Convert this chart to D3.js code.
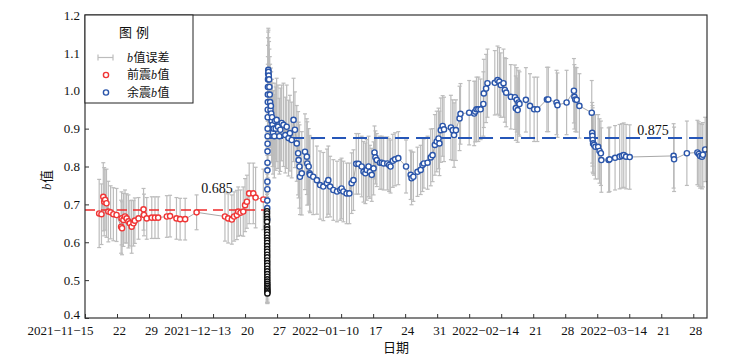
<!DOCTYPE html>
<html lang="zh">
    <head>
        <meta charset="utf-8">
        <title>b值时序</title>
        <script src="https://d3js.org/d3.v7.min.js"></script>
        <style type="text/css">
            body { margin: 0; background: #fff; }
            svg text { font-family: "Liberation Serif", "Times New Roman", serif; fill: #111; }
            .cjk { font-family: "Noto Sans CJK SC", sans-serif; }
        </style>
    </head>
    <body>
        <script type="text/javascript">

            //consts
            const w = 747;
            const h = 362;
            const margin = {top: 15, right: 40, bottom: 44, left: 85};
            const start = new Date(2021, 10, 15);
            const end = new Date(2022, 2, 31);

            //data: day offsets from 2021-11-15, b values, errors
            const foreDay = [3.1, 3.6, 4.0, 4.2, 4.4, 4.7, 5.1, 5.6, 6.2, 6.9, 7.9, 8.0, 8.1, 8.4, 8.75, 9.1, 9.5, 9.8, 10.2, 10.6,
                             10.9, 11.7, 12.8, 12.9, 13.5, 14.6, 15.3, 16.0, 17.9, 18.6, 20.0, 20.8, 21.9, 24.4, 30.6, 31.3,
                             32.1, 32.6, 33.2, 33.5, 34.0, 34.6, 35.0, 35.4, 35.9, 36.8, 37.3, 39.0];
            const foreB   = [0.676, 0.674, 0.720, 0.707, 0.712, 0.703, 0.681, 0.679, 0.674, 0.672, 0.641, 0.663, 0.637, 0.659,
                             0.668, 0.663, 0.655, 0.650, 0.641, 0.650, 0.657, 0.663, 0.687, 0.672, 0.663, 0.665, 0.665, 0.665,
                             0.668, 0.669, 0.663, 0.661, 0.661, 0.679, 0.668, 0.663, 0.660, 0.668, 0.672, 0.681, 0.678, 0.681,
                             0.698, 0.707, 0.729, 0.729, 0.718, 0.713];
            const foreErr = [0.09, 0.08, 0.09, 0.09, 0.08, 0.09, 0.08, 0.07, 0.07, 0.07, 0.07, 0.07, 0.07, 0.07,
                             0.07, 0.065, 0.07, 0.06, 0.07, 0.06, 0.06, 0.055, 0.055, 0.055, 0.055, 0.055, 0.055, 0.055,
                             0.055, 0.055, 0.055, 0.055, 0.055, 0.046, 0.065, 0.065, 0.065, 0.065, 0.065, 0.065, 0.06, 0.065,
                             0.07, 0.07, 0.08, 0.08, 0.08, 0.08];

            //first aftershocks right after the main shock (black)
            const earlyDay = [39.80, 39.80, 39.80, 39.81, 39.81, 39.81, 39.82, 39.82, 39.82, 39.82, 39.83, 39.83, 39.83,
                              39.83, 39.84, 39.84, 39.84, 39.84, 39.85, 39.85, 39.85, 39.85, 39.86, 39.86, 39.86, 39.86,
                              39.87, 39.87, 39.87, 39.87, 39.88, 39.88, 39.88];
            const earlyB   = [0.682, 0.676, 0.668, 0.661, 0.654, 0.641, 0.634, 0.627, 0.620, 0.612, 0.605, 0.598, 0.590,
                              0.582, 0.575, 0.567, 0.560, 0.552, 0.545, 0.538, 0.530, 0.523, 0.516, 0.509, 0.502, 0.496,
                              0.490, 0.485, 0.480, 0.476, 0.472, 0.468, 0.465];
            const earlyErr = [0.05, 0.05, 0.05, 0.05, 0.05, 0.05, 0.05, 0.04, 0.05, 0.04, 0.04, 0.05, 0.04,
                              0.04, 0.04, 0.04, 0.04, 0.04, 0.04, 0.04, 0.04, 0.04, 0.04, 0.04, 0.04, 0.04,
                              0.04, 0.04, 0.04, 0.035, 0.03, 0.03, 0.025];

            const afterDay = [39.84, 39.85, 39.86, 39.87, 39.88, 39.89, 39.90, 39.91, 39.92, 39.93, 39.94, 39.95, 39.96,
                              39.97, 39.98, 40.00, 40.02, 40.05, 40.08, 40.12, 40.18, 40.25, 40.32, 40.40, 40.48, 40.56,
                              40.64, 40.72, 40.80, 40.90, 41.00, 41.10, 41.25, 41.40, 41.55, 41.70, 41.9, 42.2, 42.5, 42.7,
                              43.0, 43.4, 43.8, 44.1, 44.5, 44.8, 45.2, 45.6, 45.9, 46.3, 46.6, 46.7, 46.9, 47.0, 47.4,
                              48.1, 48.5, 48.6, 48.9, 49.1, 49.2, 49.9, 50.7, 51.4, 52.1, 52.9, 53.2, 53.6, 54.3, 55.1,
                              55.8, 56.1, 56.5, 57.2, 57.8, 58.3, 58.7, 59.3, 59.8, 60.5, 60.9, 61.3, 61.6, 62.0, 62.3,
                              62.7, 63.1, 63.3, 63.5, 63.8, 64.5, 64.9, 65.3, 66.1, 66.5, 66.8, 67.3, 67.8, 68.5, 70.2,
                              71.2, 71.4, 71.8, 72.7, 73.4, 73.8, 74.1, 74.9, 75.6, 76.0, 76.5, 76.9, 77.3, 77.5, 77.8,
                              78.2, 78.5, 80.0, 80.4, 80.7, 81.1, 81.9, 82.1, 84.0, 85.1, 85.3, 85.6, 86.0, 86.5, 87.1,
                              87.2, 87.7, 88.0, 89.6, 90.2, 90.6, 90.9, 91.5, 91.8, 92.1, 93.1, 94.0, 94.2, 94.4, 94.6,
                              94.8, 95.0, 96.4, 97.3, 98.2, 98.9, 101.0, 101.3, 103.1, 103.3, 105.3, 106.9, 107.0, 107.2,
                              107.5, 108.1, 110.8, 110.9, 110.95, 111.0, 111.1, 111.3, 111.6, 112.2, 112.5, 112.8, 112.9,
                              114.5, 114.7, 115.9, 116.9, 117.4, 117.8, 118.3, 119.1, 128.7, 128.8, 131.6, 133.9, 134.2,
                              134.5, 134.9, 135.1, 135.6];
            const afterB   = [0.660, 0.690, 0.710, 0.740, 0.760, 0.790, 0.810, 0.840, 0.860, 0.880, 0.900, 0.930, 0.950,
                              0.970, 0.990, 1.010, 1.030, 1.045, 1.055, 1.050, 1.040, 1.030, 1.010, 0.990, 0.970, 0.950,
                              0.960, 0.940, 0.920, 0.930, 0.910, 0.890, 0.900, 0.880, 0.920, 0.900, 0.923, 0.905, 0.880, 0.897,
                              0.915, 0.910, 0.883, 0.905, 0.875, 0.888, 0.870, 0.923, 0.897, 0.861, 0.835, 0.817, 0.800, 0.773, 0.782,
                              0.839, 0.826, 0.808, 0.800, 0.782, 0.778, 0.773, 0.764, 0.751, 0.747, 0.756, 0.764, 0.747, 0.738, 0.734,
                              0.738, 0.742, 0.734, 0.729, 0.729, 0.756, 0.764, 0.807, 0.807, 0.800, 0.786, 0.782, 0.791, 0.800, 0.786,
                              0.778, 0.795, 0.837, 0.824, 0.817, 0.810, 0.810, 0.808, 0.808, 0.804, 0.800, 0.815, 0.819, 0.822, 0.800,
                              0.778, 0.769, 0.773, 0.786, 0.791, 0.804, 0.808, 0.810, 0.824, 0.830, 0.857, 0.866, 0.874, 0.861, 0.896,
                              0.907, 0.898, 0.903, 0.896, 0.883, 0.896, 0.927, 0.939, 0.942, 0.940, 0.945, 0.951, 0.951, 0.951, 0.965,
                              0.993, 1.006, 1.020, 1.021, 1.028, 1.024, 1.015, 1.020, 1.002, 0.995, 0.984, 0.983, 0.954, 0.976, 0.949,
                              0.969, 0.965, 0.976, 0.960, 0.951, 0.951, 0.977, 0.977, 0.969, 0.962, 0.969, 1.000, 0.984, 0.977,
                              0.976, 0.960, 0.942, 0.889, 0.881, 0.870, 0.861, 0.857, 0.852, 0.852, 0.841, 0.835, 0.817,
                              0.817, 0.819, 0.823, 0.826, 0.828, 0.830, 0.826, 0.825, 0.828, 0.819, 0.835, 0.837, 0.833,
                              0.828, 0.826, 0.831, 0.845];
            const afterErr = [0.06, 0.06, 0.07, 0.07, 0.07, 0.08, 0.08, 0.08, 0.09, 0.09, 0.09, 0.10, 0.10,
                              0.10, 0.10, 0.11, 0.11, 0.11, 0.11, 0.11, 0.10, 0.10, 0.10, 0.10, 0.10, 0.10,
                              0.10, 0.11, 0.11, 0.10, 0.11, 0.11, 0.10, 0.11, 0.10, 0.11, 0.11, 0.11, 0.10, 0.11,
                              0.10, 0.11, 0.10, 0.11, 0.10, 0.10, 0.10, 0.11, 0.10, 0.10, 0.11, 0.10, 0.11, 0.10, 0.11,
                              0.10, 0.10, 0.11, 0.10, 0.10, 0.10, 0.10, 0.09, 0.09, 0.09, 0.09, 0.09, 0.08, 0.08, 0.08,
                              0.08, 0.08, 0.08, 0.08, 0.08, 0.08, 0.08, 0.08, 0.08, 0.08, 0.08, 0.08, 0.08, 0.08, 0.07,
                              0.07, 0.07, 0.07, 0.07, 0.07, 0.07, 0.07, 0.07, 0.07, 0.07, 0.07, 0.07, 0.07, 0.07, 0.07,
                              0.065, 0.07, 0.065, 0.065, 0.065, 0.07, 0.065, 0.07, 0.075, 0.07, 0.08, 0.08, 0.08, 0.085, 0.085,
                              0.08, 0.085, 0.085, 0.08, 0.085, 0.08, 0.085, 0.08, 0.085, 0.085, 0.08, 0.085, 0.085, 0.08, 0.085,
                              0.09, 0.09, 0.09, 0.085, 0.09, 0.09, 0.085, 0.09, 0.085, 0.09, 0.085, 0.085, 0.085, 0.085, 0.085,
                              0.085, 0.085, 0.085, 0.085, 0.085, 0.085, 0.085, 0.085, 0.085, 0.085, 0.085, 0.085, 0.085, 0.085,
                              0.085, 0.085, 0.085, 0.08, 0.08, 0.085, 0.08, 0.08, 0.085, 0.085, 0.085, 0.085, 0.085,
                              0.085, 0.085, 0.085, 0.085, 0.085, 0.085, 0.085, 0.085, 0.085, 0.085, 0.085, 0.085, 0.085,
                              0.085, 0.085, 0.085, 0.085];

            const foreMean = 0.685;
            const afterMean = 0.875;
            const mainDay = 39.8;

            //x ticks (weekly) and their labels
            const tickLabels = ["2021−11−15", "22", "29", "", "2021−12−13", "20", "27", "", "2022−01−10", "17", "24",
                                "31", "", "2022−02−14", "21", "28", "", "2022−03−14", "21", "28"];
            const yTicks = [0.4, 0.5, 0.6, 0.7, 0.8, 0.9, 1.0, 1.1, 1.2];

            const toDate = d => new Date(start.getTime() + d * 864e5);
            const tickDates = tickLabels.map((t, i) => d3.timeDay.offset(start, i * 7));

            const toRows = (days, bs, errs) => days.map((d, i) => ({date: toDate(d), b: bs[i], err: errs[i]}));
            const fore = toRows(foreDay, foreB, foreErr);
            const early = toRows(earlyDay, earlyB, earlyErr);
            const after = toRows(afterDay, afterB, afterErr);

            //scales
            const xScale = d3.scaleTime()
                             .domain([start, end])
                             .range([margin.left, w - margin.right]);

            const yScale = d3.scaleLinear()
                             .domain([0.4, 1.2])
                             .range([h - margin.bottom, margin.top]);

            //SVG
            const svg = d3.select("body")
                          .append("svg")
                          .attr("width", w)
                          .attr("height", h);

            svg.append("defs").append("clipPath").attr("id", "plot")
               .append("rect")
               .attr("x", margin.left).attr("y", margin.top)
               .attr("width", w - margin.left - margin.right)
               .attr("height", h - margin.top - margin.bottom);

            const plot = svg.append("g").attr("clip-path", "url(#plot)");

            //error bars
            const errColor = "#bcbcbc";
            function errorBars(rows) {
                const g = plot.append("g").attr("stroke", errColor).attr("stroke-width", 1.2);
                rows.forEach(d => {
                    const x = xScale(d.date);
                    g.append("line").attr("x1", x).attr("x2", x)
                     .attr("y1", yScale(d.b + d.err)).attr("y2", yScale(d.b - d.err));
                    g.append("line").attr("x1", x - 2).attr("x2", x + 2)
                     .attr("y1", yScale(d.b + d.err)).attr("y2", yScale(d.b + d.err));
                    g.append("line").attr("x1", x - 2).attr("x2", x + 2)
                     .attr("y1", yScale(d.b - d.err)).attr("y2", yScale(d.b - d.err));
                });
            }
            errorBars(fore);
            errorBars(early);
            errorBars(after);

            //connecting lines
            const line = d3.line().x(d => xScale(d.date)).y(d => yScale(d.b));
            plot.append("path").datum(fore)
                .attr("d", line).attr("fill", "none").attr("stroke", "#a8a8a8").attr("stroke-width", 1);
            plot.append("path").datum(after.slice(36))
                .attr("d", line).attr("fill", "none").attr("stroke", "#a8a8a8").attr("stroke-width", 1);

            //mean lines
            plot.append("line")
                .attr("x1", xScale(start)).attr("x2", xScale(toDate(mainDay)))
                .attr("y1", yScale(foreMean)).attr("y2", yScale(foreMean))
                .attr("stroke", "#ee2b2b").attr("stroke-width", 1.5).attr("stroke-dasharray", "10,6");
            plot.append("line")
                .attr("x1", xScale(toDate(mainDay)) + 2).attr("x2", xScale(end))
                .attr("y1", yScale(afterMean)).attr("y2", yScale(afterMean))
                .attr("stroke", "#2556b8").attr("stroke-width", 2).attr("stroke-dasharray", "14,7");

            //circles
            function dots(rows, color) {
                plot.append("g").selectAll("circle")
                    .data(rows).enter().append("circle")
                    .attr("cx", d => xScale(d.date))
                    .attr("cy", d => yScale(d.b))
                    .attr("r", 2.6)
                    .attr("fill", "#fff")
                    .attr("stroke", color)
                    .attr("stroke-width", 1.4);
            }
            dots(fore, "#f03535");
            dots(after, "#2a55aa");
            dots(early, "#111");

            //mean labels
            svg.append("text").attr("x", 217).attr("y", yScale(foreMean) - 17)
               .attr("text-anchor", "middle").style("font-size", "14px").text(foreMean.toFixed(3));
            svg.append("text").attr("x", 653).attr("y", yScale(afterMean) - 3)
               .attr("text-anchor", "middle").style("font-size", "14px").text(afterMean.toFixed(3));

            //bottom axis
            const bottomAxis = d3.axisBottom(xScale)
                                 .tickValues(tickDates)
                                 .tickSize(-4)
                                 .tickPadding(8)
                                 .tickFormat((d, i) => tickLabels[i]);
            const xAxisG = svg.append("g")
                              .attr("class", "axis")
                              .attr("transform", "translate(0," + (h - margin.bottom) + ")")
                              .call(bottomAxis);
            xAxisG.selectAll("text")
                  .style("font-size", "13px")
                  .attr("dx", (d, i) => i === 0 ? -25 : (tickLabels[i].length > 3 ? -16 : 2));

            //left axis
            const leftAxis = d3.axisLeft(yScale)
                               .tickValues(yTicks)
                               .tickSize(-4)
                               .tickPadding(5)
                               .tickFormat(d3.format(".1f"));
            const yAxisG = svg.append("g")
                              .attr("class", "axis")
                              .attr("transform", "translate(" + margin.left + ",0)")
                              .call(leftAxis);
            //lowest label sits a little higher so it clears the date labels
            yAxisG.selectAll("text").style("font-size", "13px")
                  .attr("dy", d => d === 0.4 ? "0.05em" : "0.32em");

            svg.selectAll(".axis .domain").remove();
            svg.selectAll(".axis line").attr("stroke", "#333");

            //frame
            svg.append("rect")
               .attr("x", margin.left).attr("y", margin.top)
               .attr("width", w - margin.left - margin.right)
               .attr("height", h - margin.top - margin.bottom)
               .attr("fill", "none").attr("stroke", "#333").attr("stroke-width", 1.2);

            //pieces of mixed text (italic b + Chinese) placed one after another
            function mixedText(parent, x, y, parts, size) {
                let cx = x;
                parts.forEach(p => {
                    const t = parent.append("text")
                                    .attr("x", cx).attr("y", y)
                                    .style("font-size", size + "px")
                                    .attr("class", p === "b" ? null : "cjk")
                                    .style("font-style", p === "b" ? "italic" : null)
                                    .text(p);
                    cx += t.node().getComputedTextLength() + (p === "b" ? 0.5 : 0);
                });
            }

            //axis titles
            svg.append("text").attr("class", "cjk")
               .attr("x", (margin.left + w - margin.right) / 2).attr("y", 352)
               .attr("text-anchor", "middle").style("font-size", "13px").text("日期");

            const yTitle = svg.append("g").attr("transform", "translate(51,190) rotate(-90)");
            mixedText(yTitle, 0, 0, ["b", "值"], 13);

            //legend
            const lg = svg.append("g");
            lg.append("rect").attr("x", margin.left).attr("y", margin.top)
              .attr("width", 108).attr("height", 88)
              .attr("fill", "#fff").attr("stroke", "#222").attr("stroke-width", 1);
            lg.append("text").attr("class", "cjk").attr("x", 136).attr("y", 37)
              .attr("text-anchor", "middle").style("font-size", "13px")
              .style("letter-spacing", "4px").text("图例");
            const items = [["b", "值误差"], ["前震", "b", "值"], ["余震", "b", "值"]];
            const rowY = [57.5, 75, 92.5];
            items.forEach((parts, i) => {
                mixedText(lg, 127, rowY[i] + 4.2, parts, 12);
            });
            lg.append("line").attr("x1", 98).attr("x2", 113).attr("y1", rowY[0]).attr("y2", rowY[0])
              .attr("stroke", errColor).attr("stroke-width", 1.2);
            lg.append("line").attr("x1", 98).attr("x2", 98).attr("y1", rowY[0] - 3).attr("y2", rowY[0] + 3)
              .attr("stroke", errColor).attr("stroke-width", 1.2);
            lg.append("line").attr("x1", 113).attr("x2", 113).attr("y1", rowY[0] - 3).attr("y2", rowY[0] + 3)
              .attr("stroke", errColor).attr("stroke-width", 1.2);
            lg.append("circle").attr("cx", 106).attr("cy", rowY[1]).attr("r", 2.6)
              .attr("fill", "#fff").attr("stroke", "#f03535").attr("stroke-width", 1.4);
            lg.append("circle").attr("cx", 106).attr("cy", rowY[2]).attr("r", 2.6)
              .attr("fill", "#fff").attr("stroke", "#2a55aa").attr("stroke-width", 1.4);
        </script>
    </body>
</html>
